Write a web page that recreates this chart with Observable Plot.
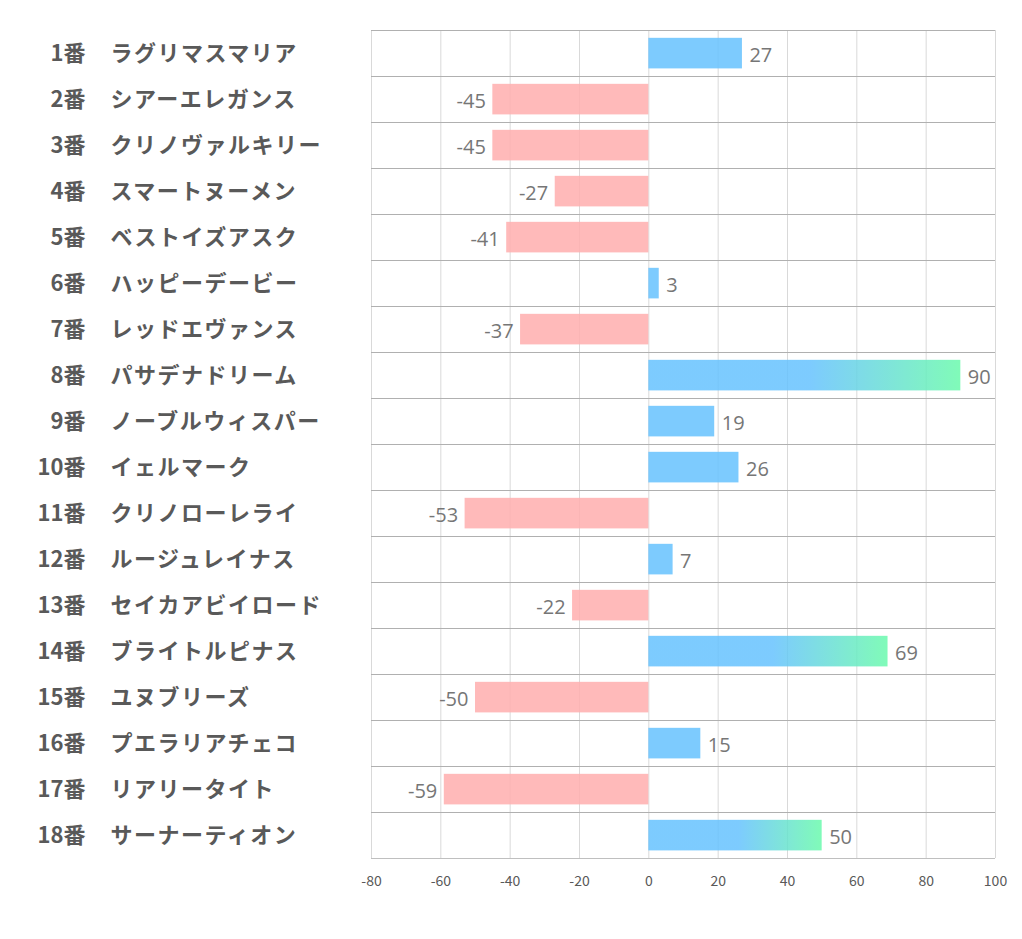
<!DOCTYPE html>
<html><head><meta charset="utf-8">
<script src="https://cdn.jsdelivr.net/npm/d3@7"></script>
<script src="https://cdn.jsdelivr.net/npm/@observablehq/plot@0.6"></script>
<style>
html,body{margin:0;padding:0;background:#fff;}
</style>
</head><body>
<div id="chart"></div>
<script>
const numbers = ["1番","2番","3番","4番","5番","6番","7番","8番","9番","10番","11番","12番","13番","14番","15番","16番","17番","18番"];
const names = ["ラグリマスマリア","シアーエレガンス","クリノヴァルキリー","スマートヌーメン","ベストイズアスク","ハッピーデービー","レッドエヴァンス","パサデナドリーム","ノーブルウィスパー","イェルマーク","クリノローレライ","ルージュレイナス","セイカアビイロード","ブライトルピナス","ユヌブリーズ","プエラリアチェコ","リアリータイト","サーナーティオン"];
const values = [27,-45,-45,-27,-41,3,-37,90,19,26,-53,7,-22,69,-50,15,-59,50];
const xTicks = [-80,-60,-40,-20,0,20,40,60,80,100];

const data = values.map((v,i)=>({i, v, num:numbers[i], name:names[i]}));
const rows = d3.range(0, names.length + 1);

const blue = "#66c2fe", green = "#6afaac", pink = "#ffaeae";
const fillOf = d => d.v >= 50 ? "url(#barGrad)" : d.v >= 0 ? blue : pink;

const svg = Plot.plot({
  width: 1022, height: 939,
  marginLeft: 371, marginRight: 27, marginTop: 30, marginBottom: 81,
  style: {fontFamily: "'Noto Sans CJK JP', 'Noto Sans', sans-serif", background: "#fff", fontSize: "14px", color: "#595959"},
  x: {domain: [-80, 100], ticks: xTicks, tickSize: 0, tickPadding: 18, label: null, tickFormat: d => String(d)},
  y: {domain: [0, names.length], reverse: true, axis: null},
  color: {type: "identity"},
  marks: [
    Plot.ruleX(xTicks, {y1: 0, y2: names.length, stroke: "#d9d9d9", strokeWidth: 1}),
    Plot.ruleY(rows, {x1: -80, x2: 100, stroke: d => d === names.length ? "#bfbfbf" : "#b0b0b0", strokeWidth: 1}),
    Plot.rect(data, {x1: () => 0, x2: "v", y1: d => d.i + 0.17, y2: d => d.i + 0.835, fill: fillOf, fillOpacity: 0.85}),
    Plot.text(data.filter(d => d.v >= 0), {x: "v", y: d => d.i + 0.5, text: d => String(d.v), textAnchor: "start", dx: 7, dy: 2, fill: "#767676", fontSize: 20, fontFamily: "'Open Sans', sans-serif"}),
    Plot.text(data.filter(d => d.v < 0), {x: "v", y: d => d.i + 0.5, text: d => String(d.v), textAnchor: "end", dx: -7, dy: 2, fill: "#767676", fontSize: 20, fontFamily: "'Open Sans', sans-serif"}),
    Plot.text(data, {frameAnchor: "left", y: d => d.i + 0.5, text: "num", textAnchor: "end", dx: -286, fill: "#595959", fontSize: 22, fontWeight: "bold"}),
    Plot.text(data, {frameAnchor: "left", y: d => d.i + 0.5, text: "name", textAnchor: "start", dx: -261, fill: "#595959", fontSize: 22, fontWeight: "bold"})
  ]
});

// gradient definition used by the long bars
const ns = "http://www.w3.org/2000/svg";
const defs = document.createElementNS(ns, "defs");
const grad = document.createElementNS(ns, "linearGradient");
grad.setAttribute("id", "barGrad");
grad.setAttribute("x1", "0"); grad.setAttribute("x2", "1"); grad.setAttribute("y1", "0"); grad.setAttribute("y2", "0");
[["0", blue], ["0.52", blue], ["1", green]].forEach(([o, c]) => {
  const s = document.createElementNS(ns, "stop");
  s.setAttribute("offset", o); s.setAttribute("stop-color", c);
  grad.appendChild(s);
});
defs.appendChild(grad);
svg.insertBefore(defs, svg.firstChild);

d3.select(svg).selectAll("text").filter(function(){ return names.includes(this.textContent); })
  .attr("letter-spacing", "1.5").style("letter-spacing", "1.5px");
d3.select(svg).selectAll("g").filter(function(){ const a = this.getAttribute("aria-label") || ""; return a.startsWith("x-axis"); })
  .attr("fill", "#595959");
document.getElementById("chart").appendChild(svg);
</script>
</body></html>
